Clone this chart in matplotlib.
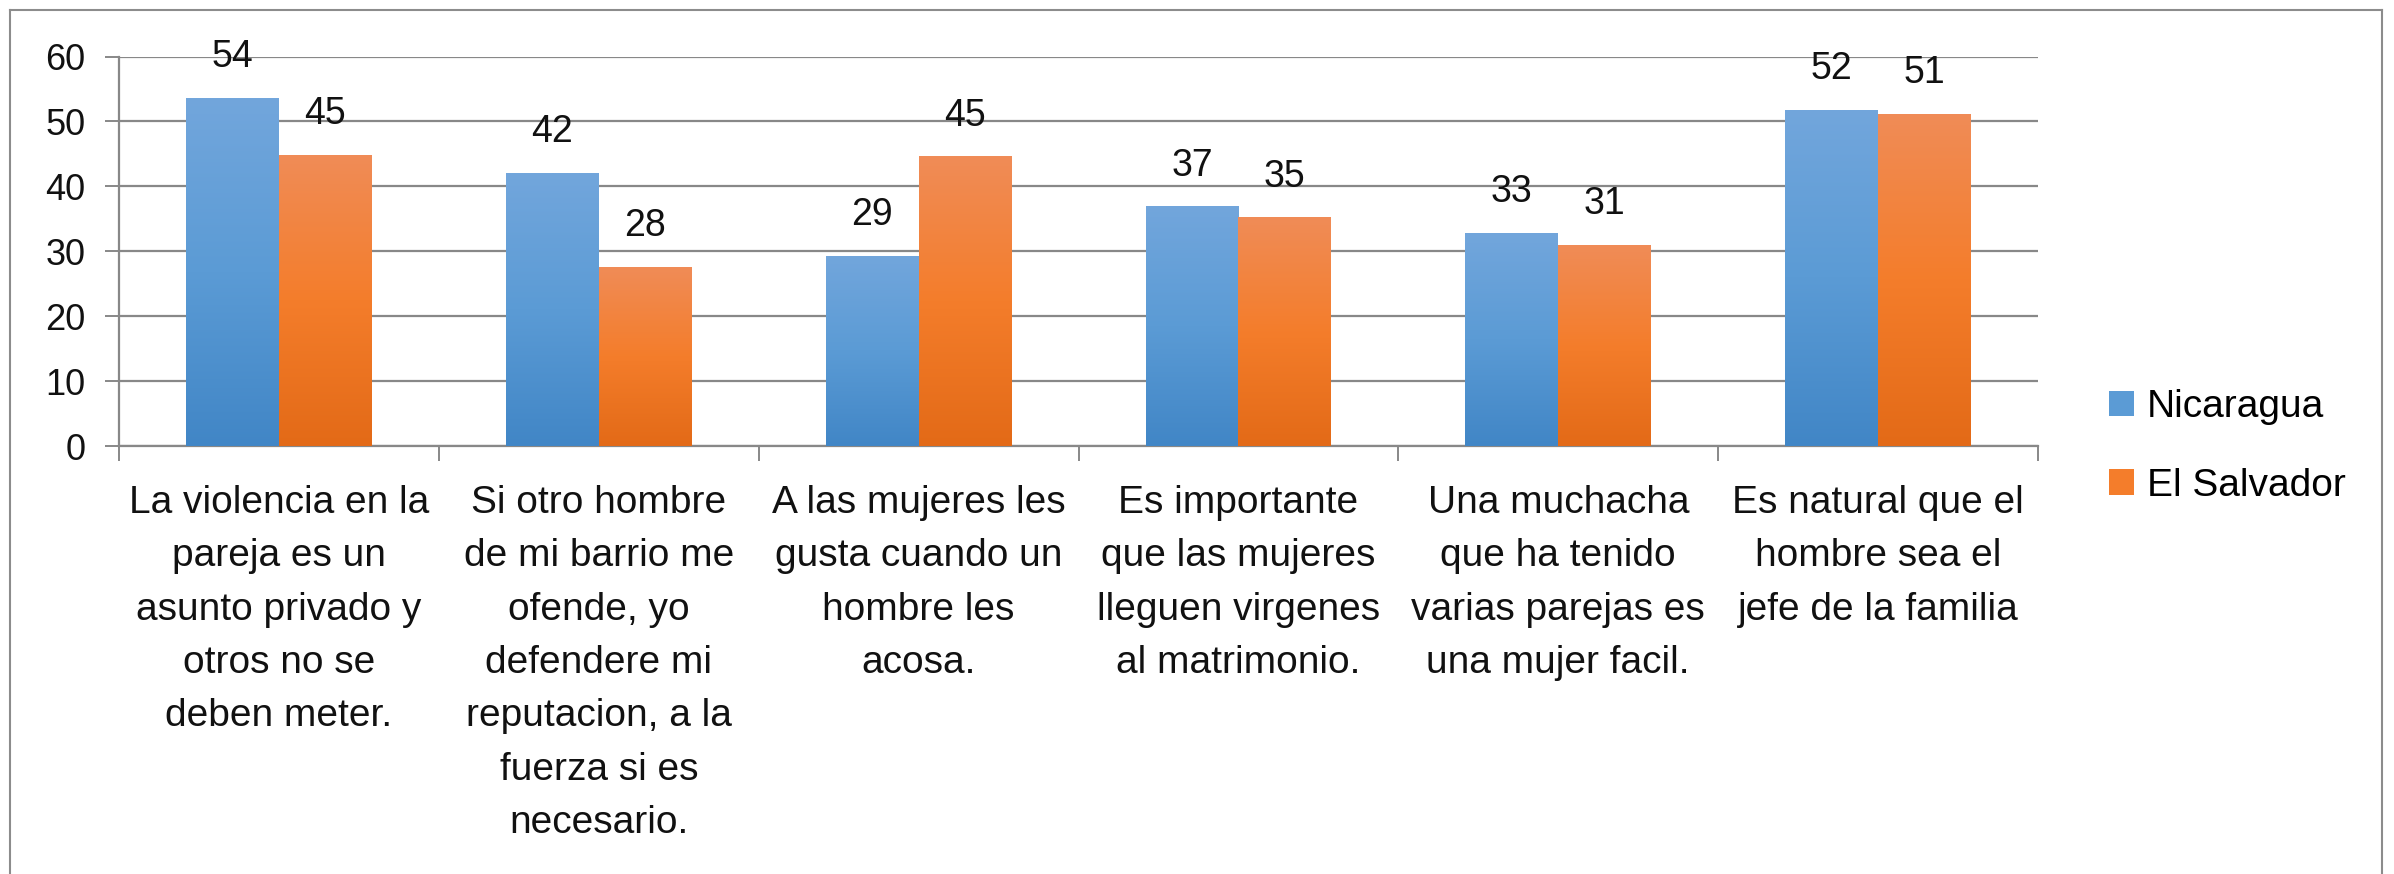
import numpy as np
import matplotlib
matplotlib.use("Agg")
import matplotlib.pyplot as plt
from matplotlib.colors import LinearSegmentedColormap
from matplotlib.lines import Line2D
from matplotlib.patches import Patch

plt.rcParams['font.family'] = ['Liberation Sans', 'DejaVu Sans']

# datos
categorias = [
    "La violencia en la\npareja es un\nasunto privado y\notros no se\ndeben meter.",
    "Si otro hombre\nde mi barrio me\nofende, yo\ndefendere mi\nreputacion, a la\nfuerza si es\nnecesario.",
    "A las mujeres les\ngusta cuando un\nhombre les\nacosa.",
    "Es importante\nque las mujeres\nlleguen virgenes\nal matrimonio.",
    "Una muchacha\nque ha tenido\nvarias parejas es\nuna mujer facil.",
    "Es natural que el\nhombre sea el\njefe de la familia",
]
nicaragua = [53.6, 42.0, 29.3, 36.9, 32.8, 51.8]
el_salvador = [44.9, 27.6, 44.6, 35.2, 30.9, 51.2]
series = ["Nicaragua", "El Salvador"]

# colores degradados estilo Excel (arriba, medio, abajo)
grad_azul = ["#72a6dc", "#5b9bd5", "#4186c6"]
grad_naranja = ["#f08c57", "#f47d2b", "#e36a17"]
gris = "#888888"

fig = plt.figure(figsize=(23.94, 8.74), dpi=100)
ax = fig.add_axes([119 / 2394, 428 / 874, (2038 - 119) / 2394, (817.5 - 428) / 874])

x = np.arange(len(categorias))
w = 0.29
b1 = ax.bar(x - w / 2, nicaragua, w, color=grad_azul[1], zorder=3, label=series[0])
b2 = ax.bar(x + w / 2, el_salvador, w, color=grad_naranja[1], zorder=3, label=series[1])


def degradado(barras, cols):
    cmap = LinearSegmentedColormap.from_list("g", cols[::-1])
    grad = np.linspace(0, 1, 256).reshape(-1, 1)
    for b in barras:
        bx, by = b.get_x(), b.get_y()
        bw, bh = b.get_width(), b.get_height()
        im = ax.imshow(grad, cmap=cmap, origin="lower", aspect="auto",
                       extent=[bx, bx + bw, by, by + bh], zorder=4)
        im.set_clip_path(b)


degradado(b1, grad_azul)
degradado(b2, grad_naranja)

for barras, vals in [(b1, nicaragua), (b2, el_salvador)]:
    for b, v in zip(barras, vals):
        ax.annotate(f"{v:.0f}", (b.get_x() + b.get_width() / 2, v),
                    xytext=(0, 16.5), textcoords="offset points",
                    ha="center", va="bottom", fontsize=27, color="#111111")

ax.set_xlim(-0.5, len(categorias) - 0.5)
ax.set_ylim(0, 60)
ax.set_yticks(range(0, 61, 10))
ax.yaxis.grid(True, color=gris, linewidth=1.6, zorder=0)
ax.set_axisbelow(True)

ax.set_xticks(x)
ax.set_xticklabels(categorias, fontsize=28, linespacing=1.62, color="#111111")
ax.set_xticks(np.arange(-0.5, len(categorias)), minor=True)
ax.tick_params(axis="x", which="major", length=0, pad=28)
ax.tick_params(axis="x", which="minor", length=11, width=1.4, color=gris)
ax.tick_params(axis="y", length=10, width=1.4, color=gris, labelsize=26,
               pad=14, labelcolor="#111111")

for s in ["top", "right"]:
    ax.spines[s].set_visible(False)
for s in ["left", "bottom"]:
    ax.spines[s].set_color(gris)
    ax.spines[s].set_linewidth(1.6)

handles = [Patch(facecolor=grad_azul[1]), Patch(facecolor=grad_naranja[1])]
fig.legend(handles, series, loc="center left", bbox_to_anchor=(2109 / 2394, 0.489),
           frameon=False, fontsize=28, handlelength=0.64, handleheight=0.64,
           handletextpad=0.33, labelspacing=1.1, borderpad=0, borderaxespad=0)

# marco del grafico
fx0, fx1, fy1 = 10 / 2394, 2382 / 2394, 1 - 10 / 874
for xs, ys in [([fx0, fx0], [0, fy1]), ([fx1, fx1], [0, fy1]), ([fx0, fx1], [fy1, fy1])]:
    fig.add_artist(Line2D(xs, ys, color="#8c8c8c", linewidth=1.5, transform=fig.transFigure))

fig.savefig("out.png", dpi=100)
